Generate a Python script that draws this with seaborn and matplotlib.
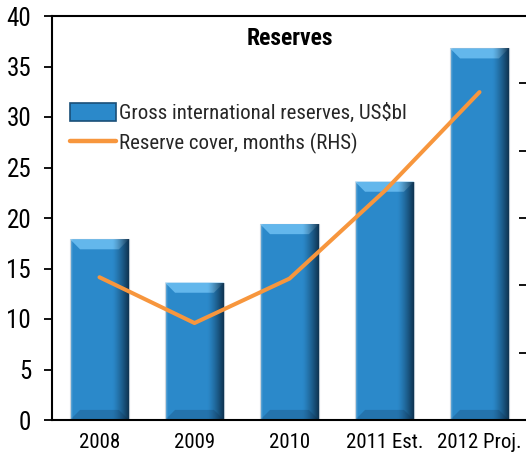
import numpy as np
import matplotlib
matplotlib.use("Agg")
import matplotlib.pyplot as plt
import seaborn as sns
from matplotlib.patches import Polygon, Rectangle
from matplotlib.lines import Line2D

# Data
years = ["2008", "2009", "2010", "2011 Est.", "2012 Proj."]
reserves_usd_bn = [17.9, 13.6, 19.4, 23.6, 36.8]
cover_months = [2.12, 1.44, 2.10, 3.40, 4.87]
left_ticks = [0, 5, 10, 15, 20, 25, 30, 35, 40]
right_ticks = [0, 1, 2, 3, 4, 5, 6]

BAR_BLUE = "#2B89CA"
TOP_BLUE = "#63B7EC"
ORANGE = "#F7963D"

sns.set_theme(style="white")
plt.rcParams["font.family"] = ["Liberation Sans Narrow", "Arial Narrow", "Arimo Narrow",
                               "Roboto Condensed", "Archivo Narrow", "Liberation Sans",
                               "DejaVu Sans"]

fig = plt.figure(figsize=(5.26, 4.58), dpi=100)
ax = fig.add_axes([52 / 526, 1 - 420 / 458, 475 / 526, 404 / 458])

df = {"year": years, "reserves": reserves_usd_bn}
sns.barplot(x="year", y="reserves", data=df, color=BAR_BLUE, width=0.62,
            saturation=1, ax=ax, zorder=2, legend=False)

# Bevelled shading on each bar, derived from the bar geometry
bars = list(ax.patches)
n = 200
ramp = np.linspace(0, 1, n)
shade = np.zeros((1, n, 4))
shade[0, :, :3] = np.array([11, 41, 66]) / 255
shade[0, :, 3] = np.clip((ramp - 0.72) / 0.28, 0, 1) ** 1.3 * 0.9
left_glow = np.zeros((1, n, 4))
left_glow[0, :, :3] = 1.0
left_glow[0, :, 3] = np.clip((0.05 - ramp) / 0.05, 0, 1) * 0.35
for bar in bars:
    x0, y0 = bar.get_x(), bar.get_y()
    w, h = bar.get_width(), bar.get_height()
    bar.set_edgecolor("#B9C6D0")
    bar.set_linewidth(0.8)
    dx, dy = w * 0.17, 1.0
    top = y0 + h
    ax.add_patch(Polygon([(x0, top), (x0 + w, top), (x0 + w - dx, top - dy),
                          (x0 + dx, top - dy)], closed=True, facecolor=TOP_BLUE,
                         edgecolor="none", zorder=2.2))
    ax.add_patch(Polygon([(x0, y0), (x0 + w, y0), (x0 + w - dx, y0 + dy),
                          (x0 + dx, y0 + dy)], closed=True, facecolor="#2473AD",
                         edgecolor="none", zorder=2.2))
    for img in (shade, left_glow):
        im = ax.imshow(img, extent=[x0, x0 + w, y0, top], aspect="auto",
                       interpolation="bilinear", zorder=2.4)
        im.set_clip_path(bar)

ax.set_xlim(-0.5, len(years) - 0.5)
ax.set_ylim(0, 40)
ax.set_yticks(left_ticks)
ax.set_xlabel("")
ax.set_ylabel("")
ax.tick_params(axis="y", labelsize=18, length=6, width=1.3, direction="out",
               pad=9, colors="black", left=True)
ax.tick_params(axis="x", labelsize=15, length=0, pad=9, colors="black")
for side in ["left", "bottom", "top"]:
    ax.spines[side].set_visible(True)
    ax.spines[side].set_color("black")
    ax.spines[side].set_linewidth(1.5)
ax.spines["right"].set_visible(False)

# Reserve cover on the right-hand scale
ax2 = ax.twinx()
sns.lineplot(x=np.arange(len(years)), y=cover_months, ax=ax2, color=ORANGE,
             linewidth=2.9, zorder=5, legend=False)
ax2.set_ylim(0, 6)
ax2.set_yticks(right_ticks)
ax2.set_ylabel("")
ax2.tick_params(axis="y", direction="in", length=6, width=1.3, labelright=False,
                right=True, colors="black")
for side in ax2.spines:
    ax2.spines[side].set_visible(False)
ax2.set_xlim(-0.5, len(years) - 0.5)

ax.text(0.5, 0.944, "Reserves", transform=ax.transAxes, ha="center", va="center",
        fontsize=17, fontweight="bold", color="black")

handles = [Rectangle((0, 0), 1, 1, facecolor=BAR_BLUE, edgecolor="#1A4F78", linewidth=1.2),
           Line2D([], [], color=ORANGE, linewidth=3.2)]
labels = ["Gross international reserves, US$bl", "Reserve cover, months (RHS)"]
ax2.legend(handles, labels, loc="upper left", bbox_to_anchor=(70 / 526, 1 - 103 / 458),
           bbox_transform=fig.transFigure, frameon=False, fontsize=15,
           handlelength=2.2, handleheight=0.9, handletextpad=0.15, labelspacing=0.45,
           borderpad=0, borderaxespad=0)

fig.savefig("out.png", dpi=100)
